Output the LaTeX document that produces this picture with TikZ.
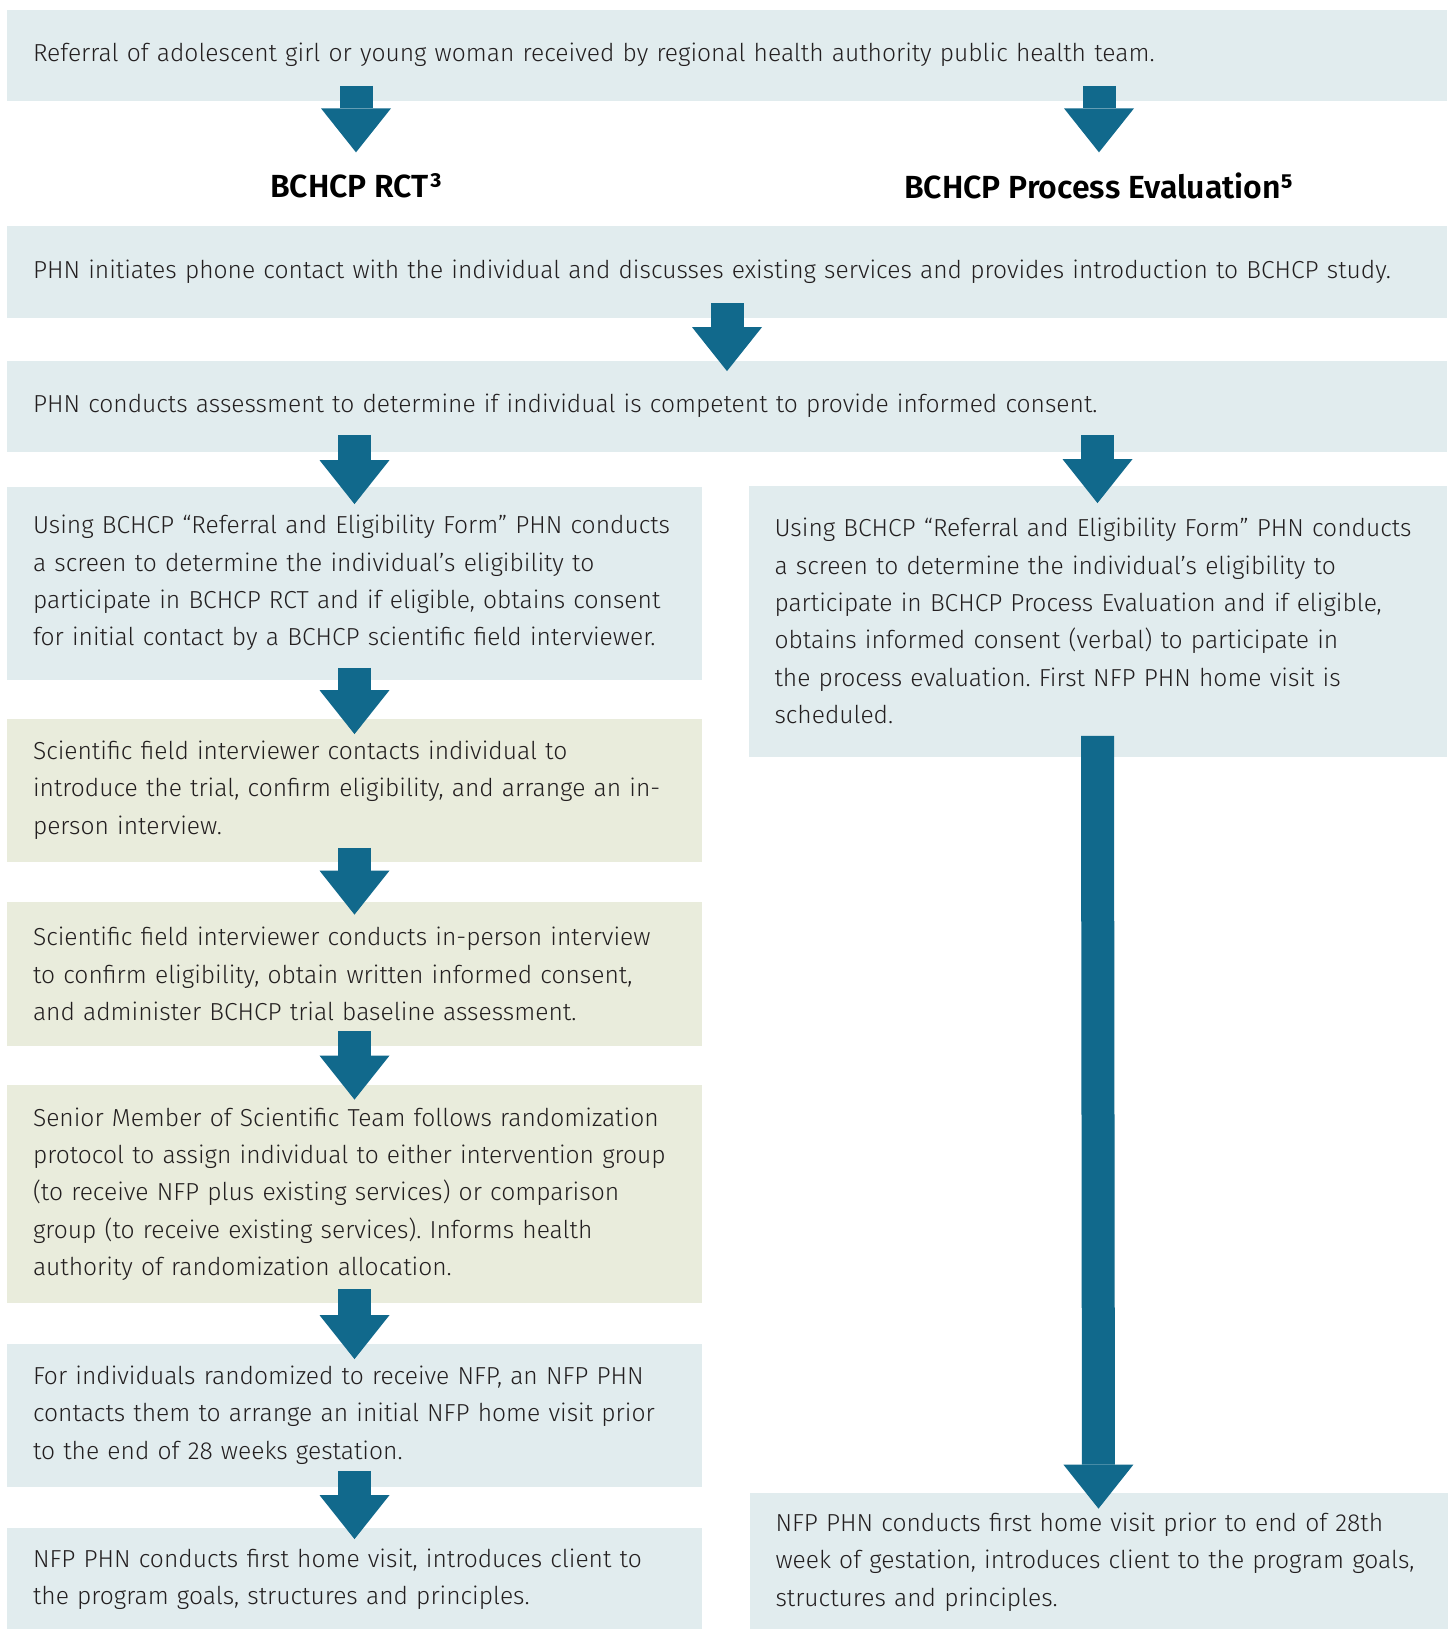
\documentclass[tikz,border=0pt]{standalone}
\usepackage{fontspec}
\setmainfont{Fira Sans}[UprightFont=* Light, BoldFont=* SemiBold]
\usetikzlibrary{arrows.meta}
\definecolor{cajaazul}{HTML}{E1ECEE}
\definecolor{cajaverde}{HTML}{E9ECDC}
\definecolor{flechaazul}{HTML}{11698C}
\definecolor{texto}{HTML}{231F20}
\newcommand{\supfig}[1]{{\addfontfeatures{VerticalPosition=Superior}#1}}
\frenchspacing

\begin{document}
\begin{tikzpicture}[
    x=0.5pt, y=-0.5pt,
    box/.style={fill=cajaazul, inner xsep=13pt, inner ysep=0pt, align=left, text=texto, font=\fontsize{12.3}{18.65}\selectfont},
    widebox/.style={box, text width=694pt, minimum height=#1},
    lbox/.style={box, text width=321.5pt, minimum height=#1},
    rbox/.style={box, text width=323pt, minimum height=#1},
    green/.style={fill=cajaverde},
    title/.style={inner sep=0pt, font=\fontsize{16}{19}\selectfont\bfseries, text=black},
    arrow/.style={draw=flechaazul, line width=16.5pt, -{Triangle[width=35pt, length=22pt, line width=0pt]}}
]
\useasboundingbox (0,0) rectangle (1450,1629);

% Cajas de ancho completo
\node[widebox=45.5pt] (top) at (727,55) {Referral of adolescent girl or young woman received by regional health authority public health team.};
\node[widebox=46pt] (phone) at (727,272) {PHN initiates phone contact with the individual and discusses existing services and provides introduction to BCHCP study.};
\node[widebox=45.5pt] (assess) at (727,406) {PHN conducts assessment to determine if individual is competent to provide informed consent.};

% Titulos
\node[title] (rct) at (356,186) {BCHCP RCT\supfig{3}};
\node[title] (pe) at (1099,186) {BCHCP Process Evaluation\supfig{5}};

% Columna izquierda
\node[lbox=96.5pt] (l1) at (354.5,583) {Using BCHCP “Referral and Eligibility Form” PHN conducts\\a screen to determine the individual’s eligibility to\\participate in BCHCP RCT and if eligible, obtains consent\\for initial contact by a BCHCP scientific field interviewer.};
\node[lbox=71.5pt, green] (l2) at (354.5,790) {Scientific field interviewer contacts individual to\\introduce the trial, confirm eligibility, and arrange an in-\\person interview.};
\node[lbox=72pt, green] (l3) at (354.5,974) {Scientific field interviewer conducts in-person interview\\to confirm eligibility, obtain written informed consent,\\and administer BCHCP trial baseline assessment.};
\node[lbox=109pt, green] (l4) at (354.5,1194) {Senior Member of Scientific Team follows randomization\\protocol to assign individual to either intervention group\\(to receive NFP plus existing services) or comparison\\group (to receive existing services). Informs health\\authority of randomization allocation.};
\node[lbox=71.5pt] (l5) at (354.5,1415) {For individuals randomized to receive NFP, an NFP PHN\\contacts them to arrange an initial NFP home visit prior\\to the end of 28 weeks gestation.};
\node[lbox=51.5pt] (l6) at (354.5,1579) {NFP PHN conducts first home visit, introduces client to\\the program goals, structures and principles.};

% Columna derecha
\node[rbox=135.5pt] (r1) at (1097.5,621) {Using BCHCP “Referral and Eligibility Form” PHN conducts\\a screen to determine the individual’s eligibility to\\participate in BCHCP Process Evaluation and if eligible,\\obtains informed consent (verbal) to participate in\\the process evaluation. First NFP PHN home visit is\\scheduled.};
\node[rbox=69pt] (r2) at (1098.5,1562) {NFP PHN conducts first home visit prior to end of 28th\\week of gestation, introduces client to the program goals,\\structures and principles.};

% Flechas
\draw[arrow] ([yshift=7.5pt]top.south -| rct) -- ([yshift=10.5pt]rct.north);
\draw[arrow] ([yshift=7.5pt]top.south -| pe) -- ([yshift=10.5pt]rct.north -| pe);
\draw[arrow] ([yshift=7.5pt]phone.south) -- ([yshift=-5.5pt]assess.north);
\draw[arrow] ([yshift=8.5pt]assess.south -| l1) -- ([yshift=-9pt]l1.north);
\draw[arrow] ([yshift=8.5pt]assess.south -| r1) -- ([yshift=-9pt]r1.north);
\draw[arrow] ([yshift=6pt]l1.south) -- ([yshift=-8pt]l2.north);
\draw[arrow] ([yshift=7pt]l2.south) -- ([yshift=-6.5pt]l3.north);
\draw[arrow] ([yshift=7.5pt]l3.south) -- ([yshift=-7.5pt]l4.north);
\draw[arrow] ([yshift=7pt]l4.south) -- ([yshift=-8pt]l5.north);
\draw[arrow] ([yshift=8pt]l5.south) -- ([yshift=-6pt]l6.north);
\draw[arrow] ([yshift=10.5pt]r1.south) -- ([yshift=-8pt]r2.north);

\end{tikzpicture}
\end{document}
